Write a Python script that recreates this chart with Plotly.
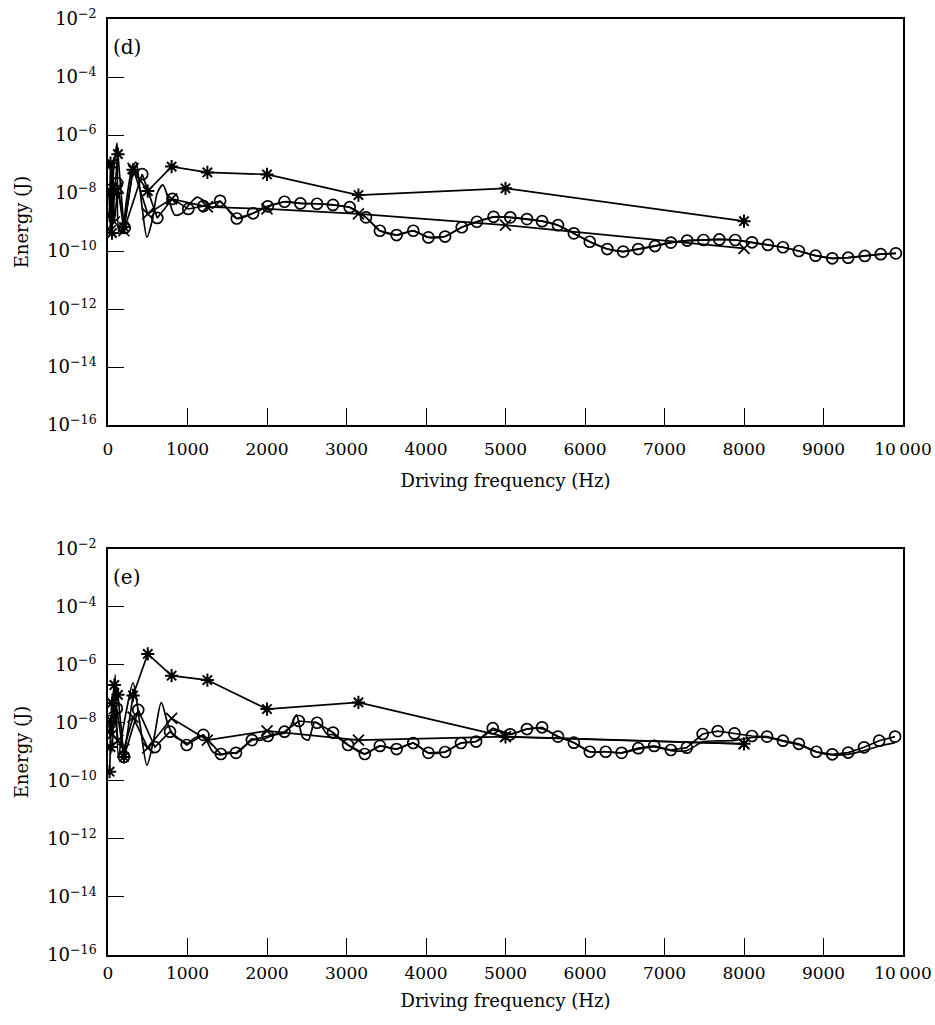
import plotly.graph_objects as go
from plotly.subplots import make_subplots

# ---------------- panel (d) ----------------
d_star_f = [20, 31.5, 50, 80, 125, 200, 315, 500, 800, 1250, 2000, 3150, 5000, 8000]
d_star_E = [1.74e-9, 1.07e-7, 4.17e-10, 1.0e-8, 2.19e-7, 6.76e-10, 6.31e-8, 1.17e-8,
            8.13e-8, 5.13e-8, 4.37e-8, 8.51e-9, 1.45e-8, 1.07e-9]

d_cross_f = [20, 31.5, 50, 80, 125, 200, 315, 500, 800, 1250, 2000, 3150, 5000, 8000]
d_cross_E = [1.26e-8, 5.0e-10, 1.0e-7, 1.0e-9, 1.58e-8, 5.0e-10, 7.08e-8, 1.91e-9,
             6.31e-9, 3.31e-9, 2.82e-9, 1.91e-9, 7.76e-10, 1.23e-10]

d_circ_f = [10, 115, 210, 430, 620, 810, 1010, 1200, 1410, 1620, 1825, 2010, 2220, 2420,
            2630, 2830, 3040, 3245, 3420, 3630, 3840, 4030, 4240, 4450, 4640, 4850, 5060,
            5270, 5460, 5660, 5860, 6060, 6280, 6480, 6670, 6880, 7080, 7285, 7490, 7690,
            7890, 8100, 8300, 8490, 8690, 8900, 9110, 9310, 9520, 9720, 9910]
d_circ_E = [1.26e-8, 2.19e-8, 6.3e-10, 4.47e-8, 1.38e-9, 6.3e-9, 2.82e-9, 3.55e-9, 5.37e-9,
            1.32e-9, 2.0e-9, 3.47e-9, 5.0e-9, 4.37e-9, 4.27e-9, 3.89e-9, 3.24e-9, 1.45e-9,
            5.0e-10, 3.55e-10, 5.0e-10, 2.95e-10, 3.16e-10, 6.61e-10, 1.02e-9, 1.51e-9,
            1.45e-9, 1.26e-9, 1.07e-9, 7.76e-10, 4.07e-10, 2.09e-10, 1.17e-10, 9.55e-11,
            1.17e-10, 1.48e-10, 1.95e-10, 2.29e-10, 2.40e-10, 2.51e-10, 2.40e-10, 2.0e-10,
            1.62e-10, 1.35e-10, 1.0e-10, 6.92e-11, 5.62e-11, 5.89e-11, 6.76e-11, 7.76e-11,
            8.32e-11]

d_line_f = [10, 40, 70, 100, 115, 140, 180, 230, 290, 350, 420, 490, 560, 620, 690, 760,
            840, 930, 1020, 1120, 1220, 1320, 1410, 1620, 1825, 2010, 2220, 2420, 2630,
            2830, 3040, 3245, 3420, 3630, 3840, 4030, 4240, 4450, 4640, 4850, 5060, 5270,
            5460, 5660, 5860, 6060, 6280, 6480, 6670, 6880, 7080, 7285, 7490, 7690, 7890,
            8100, 8300, 8490, 8690, 8900, 9110, 9310, 9520, 9720, 9910]
d_line_E = [1.26e-8, 5.0e-10, 6.31e-8, 3.16e-7, 5.25e-7, 3.98e-10, 5.0e-10, 5.0e-9, 5.0e-8,
            1.17e-7, 5.0e-9, 3.02e-10, 1.26e-9, 1.0e-8, 1.91e-8, 6.31e-9, 1.74e-9, 2.0e-9,
            3.98e-9, 7.24e-9, 5.0e-9, 3.02e-9, 5.0e-9, 1.32e-9, 2.0e-9, 3.47e-9, 5.0e-9,
            4.37e-9, 4.27e-9, 3.89e-9, 3.24e-9, 1.45e-9, 5.0e-10, 3.55e-10, 5.0e-10,
            2.95e-10, 3.16e-10, 6.61e-10, 1.02e-9, 1.51e-9, 1.45e-9, 1.26e-9, 1.07e-9,
            7.76e-10, 4.07e-10, 2.09e-10, 1.17e-10, 9.55e-11, 1.17e-10, 1.48e-10, 1.95e-10,
            2.29e-10, 2.40e-10, 2.51e-10, 2.40e-10, 2.0e-10, 1.62e-10, 1.35e-10, 1.0e-10,
            6.92e-11, 5.62e-11, 5.89e-11, 6.76e-11, 7.76e-11, 8.32e-11]

# ---------------- panel (e) ----------------
e_star_f = [20, 31.5, 50, 80, 125, 200, 315, 500, 800, 1250, 2000, 3150, 5000, 8000]
e_star_E = [2.09e-10, 1.48e-9, 4.9e-8, 2.04e-7, 9.33e-8, 6.76e-10, 8.91e-8, 2.4e-6,
            4.27e-7, 3.02e-7, 3.02e-8, 5.13e-8, 3.31e-9, 1.91e-9]

e_cross_f = [20, 31.5, 50, 80, 125, 200, 315, 500, 800, 1250, 2000, 3150, 5000, 8000]
e_cross_E = [5.0e-9, 1.26e-8, 3.98e-9, 3.16e-8, 2.51e-9, 1.26e-9, 1.58e-8, 1.38e-9,
             1.45e-8, 2.57e-9, 5.37e-9, 2.57e-9, 3.39e-9, 1.91e-9]

e_circ_f = [10, 110, 200, 380, 590, 780, 990, 1200, 1420, 1610, 1810, 2010, 2220, 2400,
            2630, 2830, 3020, 3230, 3420, 3630, 3840, 4030, 4240, 4440, 4630, 4840, 5060,
            5270, 5460, 5660, 5860, 6060, 6260, 6460, 6670, 6870, 7080, 7280, 7480, 7670,
            7880, 8100, 8290, 8490, 8690, 8910, 9110, 9310, 9510, 9700, 9900]
e_circ_E = [1.17e-8, 3.16e-8, 6.76e-10, 2.82e-8, 1.48e-9, 5.0e-9, 1.74e-9, 3.89e-9,
            8.51e-10, 9.33e-10, 2.57e-9, 3.55e-9, 5.0e-9, 1.17e-8, 1.02e-8, 4.68e-9,
            1.74e-9, 8.51e-10, 1.62e-9, 1.26e-9, 2.04e-9, 9.33e-10, 1.0e-9, 2.04e-9,
            2.29e-9, 6.61e-9, 4.07e-9, 6.17e-9, 7.08e-9, 3.39e-9, 2.09e-9, 1.02e-9,
            1.02e-9, 9.33e-10, 1.35e-9, 1.62e-9, 1.17e-9, 1.41e-9, 4.17e-9, 5.25e-9,
            4.37e-9, 3.55e-9, 3.39e-9, 2.45e-9, 1.91e-9, 1.02e-9, 8.32e-10, 9.55e-10,
            1.45e-9, 2.45e-9, 3.39e-9]

e_line_f = [10, 50, 90, 130, 170, 230, 315, 400, 490, 580, 670, 760, 840, 930, 1000, 1100,
            1200, 1320, 1420, 1520, 1610, 1720, 1810, 1910, 2010, 2110, 2220, 2300, 2370,
            2450, 2520, 2600, 2680, 2760, 2830, 3020, 3230, 3420, 3630, 3840, 4030, 4240,
            4440, 4630, 4840, 5060, 5270, 5460, 5660, 5860, 6060, 6260, 6460, 6670, 6870,
            7080, 7280, 7480, 7670, 7880, 8100, 8290, 8490, 8690, 8910, 9110, 9310, 9510,
            9700, 9900]
e_line_E = [1.26e-8, 1.0e-9, 4.57e-7, 6.31e-10, 3.16e-9, 2.51e-8, 2.4e-7, 1.0e-8, 3.55e-10,
            3.16e-9, 5.01e-8, 7.94e-9, 3.39e-9, 2.51e-9, 2.0e-9, 3.16e-9, 3.55e-9, 1.0e-9,
            7.94e-10, 1.0e-9, 8.91e-10, 1.58e-9, 2.82e-9, 2.51e-9, 3.16e-9, 3.98e-9,
            4.47e-9, 7.94e-9, 1.91e-8, 3.16e-9, 2.57e-9, 1.07e-8, 7.94e-9, 3.98e-9,
            3.98e-9, 1.74e-9, 8.51e-10, 1.62e-9, 1.26e-9, 2.04e-9, 9.33e-10, 1.0e-9,
            2.04e-9, 2.29e-9, 5.62e-9, 4.07e-9, 6.17e-9, 6.31e-9, 3.39e-9, 2.09e-9,
            1.02e-9, 1.02e-9, 9.33e-10, 1.26e-9, 1.51e-9, 1.12e-9, 1.12e-9, 2.24e-9,
            2.4e-9, 2.51e-9, 3.16e-9, 3.16e-9, 2.34e-9, 1.78e-9, 1.0e-9, 7.94e-10,
            8.32e-10, 1.12e-9, 1.58e-9, 2.09e-9]

y_tickvals = [1e-16, 1e-14, 1e-12, 1e-10, 1e-8, 1e-6, 1e-4, 1e-2]
y_ticktext = ["10<sup>\u221216</sup>", "10<sup>\u221214</sup>", "10<sup>\u221212</sup>",
              "10<sup>\u221210</sup>", "10<sup>\u22128</sup>", "10<sup>\u22126</sup>",
              "10<sup>\u22124</sup>", "10<sup>\u22122</sup>"]
x_tickvals = [0, 1000, 2000, 3000, 4000, 5000, 6000, 7000, 8000, 9000, 10000]
x_ticktext = ["0", "1000", "2000", "3000", "4000", "5000", "6000", "7000", "8000",
              "9000", "10\u2009000"]
panel_labels = ["(d)", "(e)"]

FONT = "DejaVu Serif"
BLACK = "#000000"

fig = make_subplots(rows=2, cols=1, vertical_spacing=0.1324)

panels = [
    (d_star_f, d_star_E, d_cross_f, d_cross_E, d_circ_f, d_circ_E, d_line_f, d_line_E),
    (e_star_f, e_star_E, e_cross_f, e_cross_E, e_circ_f, e_circ_E, e_line_f, e_line_E),
]
label_standoff = [8, 2]
title_standoff = [16, 12]

for i, (sf, sE, cf, cE, of, oE, lf, lE) in enumerate(panels):
    row = i + 1
    fig.add_trace(go.Scatter(x=lf, y=lE, mode="lines", line=dict(color=BLACK, width=1.7,
                  shape="spline", smoothing=0.8), showlegend=False), row=row, col=1)
    fig.add_trace(go.Scatter(x=of, y=oE, mode="lines+markers",
                  line=dict(color=BLACK, width=1.7),
                  marker=dict(symbol="circle-open", size=11, color=BLACK,
                              line=dict(width=1.7, color=BLACK)),
                  showlegend=False), row=row, col=1)
    fig.add_trace(go.Scatter(x=cf, y=cE, mode="lines+markers",
                  line=dict(color=BLACK, width=1.7),
                  marker=dict(symbol="x-thin-open", size=11, color=BLACK,
                              line=dict(width=1.7, color=BLACK)),
                  showlegend=False), row=row, col=1)
    fig.add_trace(go.Scatter(x=sf, y=sE, mode="lines+markers",
                  line=dict(color=BLACK, width=1.7),
                  marker=dict(symbol="asterisk-open", size=11, color=BLACK,
                              line=dict(width=2, color=BLACK)),
                  showlegend=False), row=row, col=1)

    fig.update_xaxes(row=row, col=1, range=[0, 10000], tickvals=x_tickvals,
                     ticktext=x_ticktext, ticks="inside", ticklen=17, tickwidth=1,
                     tickcolor=BLACK, showline=True, linecolor=BLACK, linewidth=1.5,
                     mirror=True, showgrid=False, zeroline=False, automargin=False,
                     ticklabelstandoff=label_standoff[i],
                     tickfont=dict(family=FONT, size=17, color=BLACK),
                     title=dict(text="Driving frequency (Hz)", standoff=title_standoff[i],
                                font=dict(family=FONT, size=18, color=BLACK)))
    fig.update_yaxes(row=row, col=1, type="log", range=[-16, -2], tickvals=y_tickvals,
                     ticktext=y_ticktext, ticks="inside", ticklen=16, tickwidth=1,
                     tickcolor=BLACK, showline=True, linecolor=BLACK, linewidth=1.5,
                     mirror=True, showgrid=False, zeroline=False, automargin=False,
                     ticklabelstandoff=6,
                     tickfont=dict(family=FONT, size=18, color=BLACK),
                     title=dict(text="Energy (J)", standoff=14,
                                font=dict(family=FONT, size=18, color=BLACK)))

fig.update_layout(
    width=935, height=1025,
    margin=dict(l=108, r=32, t=19, b=70, autoexpand=False),
    paper_bgcolor="white", plot_bgcolor="white",
    showlegend=False,
)
fig.layout.yaxis.domain = [0.5662, 1.0]
fig.layout.yaxis2.domain = [0.0, 0.4338]

for i, lab in enumerate(panel_labels):
    yref = "y domain" if i == 0 else "y2 domain"
    xref = "x domain" if i == 0 else "x2 domain"
    fig.add_annotation(text=lab, xref=xref, yref=yref, x=0.004, y=0.965,
                       xanchor="left", yanchor="top", showarrow=False,
                       font=dict(family=FONT, size=20, color=BLACK))

fig.write_html("out.html")
